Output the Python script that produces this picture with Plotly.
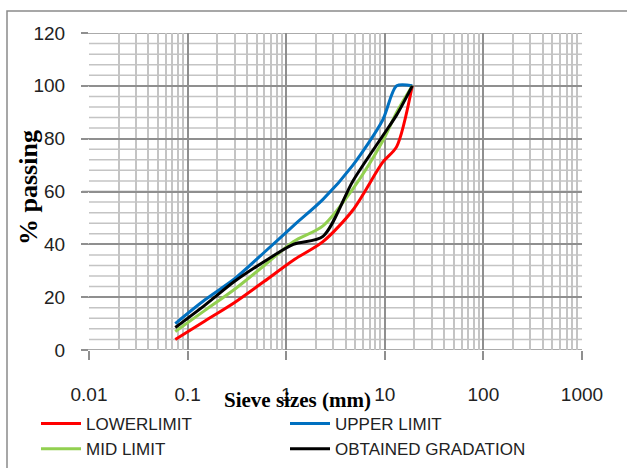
import plotly.graph_objects as go

# Data
sieve_sizes = [0.075, 0.15, 0.3, 0.6, 1.18, 2.36, 4.75, 9.5, 13.2, 19]
lower_limit = [4, 11, 18, 26, 34, 41, 53, 71, 77, 100]
upper_limit = [10, 19, 27, 37, 47, 57, 70, 87, 100, 100]
mid_limit = [7, 15, 23, 32, 41, 47, 61, 79, 90, 100]
obtained = [8.5, 17, 26, 33.5, 40, 43, 64, 81, 89, 100]

x_ticks = [0.01, 0.1, 1, 10, 100, 1000]
x_ticktext = ["0.01", "0.1", "1", "10", "100", "1000"]
x_minor = [m * d for d in [0.01, 0.1, 1, 10, 100] for m in range(2, 10)]
y_ticks = [0, 20, 40, 60, 80, 100, 120]
y_minor = [v for v in range(0, 121, 4) if v % 20 != 0]

series = [
    ("LOWERLIMIT", lower_limit, "#FF0000", "legend"),
    ("UPPER LIMIT", upper_limit, "#0070C0", "legend2"),
    ("MID LIMIT", mid_limit, "#92D050", "legend"),
    ("OBTAINED GRADATION", obtained, "#000000", "legend2"),
]

fig = go.Figure()
for name, vals, col, lg in series:
    fig.add_trace(go.Scatter(
        x=sieve_sizes, y=vals, name=name, mode="lines", legend=lg,
        line=dict(color=col, width=3, shape="spline", smoothing=0.8),
    ))

W, H = 627, 468
L, R, T, B = 89, 45, 33, 118
pw, ph = W - L - R, H - T - B

def px(xp):
    return (xp - L) / pw

def py(yp):
    return (H - B - yp) / ph

tickfont = dict(family="Liberation Sans, Arial, sans-serif", size=19, color="#222")
legfont = dict(family="Liberation Sans, Arial, sans-serif", size=17, color="#222")

# horizontal grid lines (major / minor) drawn under the traces;
# major lines extend a little left of the plot to act as outside tick marks
grid_shapes = []
for v in y_minor:
    grid_shapes.append(dict(type="line", xref="paper", yref="y", x0=0, x1=1, y0=v, y1=v,
                            line=dict(color="#c4c4c4", width=1.5), layer="below"))
for v in y_ticks:
    grid_shapes.append(dict(type="line", xref="paper", yref="y", x0=px(82), x1=1, y0=v, y1=v,
                            line=dict(color="#8f8f8f", width=1.5), layer="below"))

fig.update_layout(
    width=W, height=H,
    margin=dict(l=L, r=R, t=T, b=B, autoexpand=False),
    paper_bgcolor="white", plot_bgcolor="white",
    showlegend=True,
    legend=dict(
        orientation="v", x=px(36), y=py(467), xanchor="left", yanchor="bottom",
        font=legfont, bgcolor="rgba(0,0,0,0)", tracegroupgap=0, itemwidth=40,
    ),
    legend2=dict(
        orientation="v", x=px(285), y=py(467), xanchor="left", yanchor="bottom",
        font=legfont, bgcolor="rgba(0,0,0,0)", tracegroupgap=0, itemwidth=40,
    ),
    xaxis=dict(
        type="log", range=[-2, 3],
        tickmode="array", tickvals=x_ticks, ticktext=x_ticktext,
        showgrid=True, gridcolor="#8f8f8f", gridwidth=1.5,
        ticks="outside", ticklen=9, tickcolor="#8f8f8f", tickwidth=1.5,
        ticklabelstandoff=18,
        minor=dict(tickmode="array", tickvals=x_minor, showgrid=True,
                   gridcolor="#c4c4c4", gridwidth=1.5, ticks=""),
        zeroline=False, showline=False,
        tickfont=tickfont,
    ),
    yaxis=dict(
        range=[0, 120], tickmode="array", tickvals=y_ticks,
        ticklabelstandoff=12,
        showgrid=True, gridcolor="#8f8f8f", gridwidth=1.5,
        ticks="outside", ticklen=7, tickcolor="#8f8f8f", tickwidth=1.5,
        zeroline=False, showline=False,
        tickfont=tickfont,
    ),
    annotations=[
        dict(text="<b>Sieve sizes (mm)</b>", xref="paper", yref="paper",
             x=px(297), y=py(400), xanchor="center", yanchor="middle",
             showarrow=False,
             font=dict(family="Liberation Serif, Times New Roman, serif", size=21, color="black")),
        dict(text="<b>% passing</b>", xref="paper", yref="paper",
             x=px(28), y=py(188), xanchor="center", yanchor="middle",
             textangle=-90, showarrow=False,
             font=dict(family="Liberation Serif, Times New Roman, serif", size=26, color="black")),
    ],
    shapes=grid_shapes + [
        dict(type="rect", xref="paper", yref="paper",
             x0=px(7), x1=px(640), y0=py(480), y1=py(11),
             line=dict(color="#8a8a8a", width=1.5)),
    ],
)

fig.write_html("out.html")
